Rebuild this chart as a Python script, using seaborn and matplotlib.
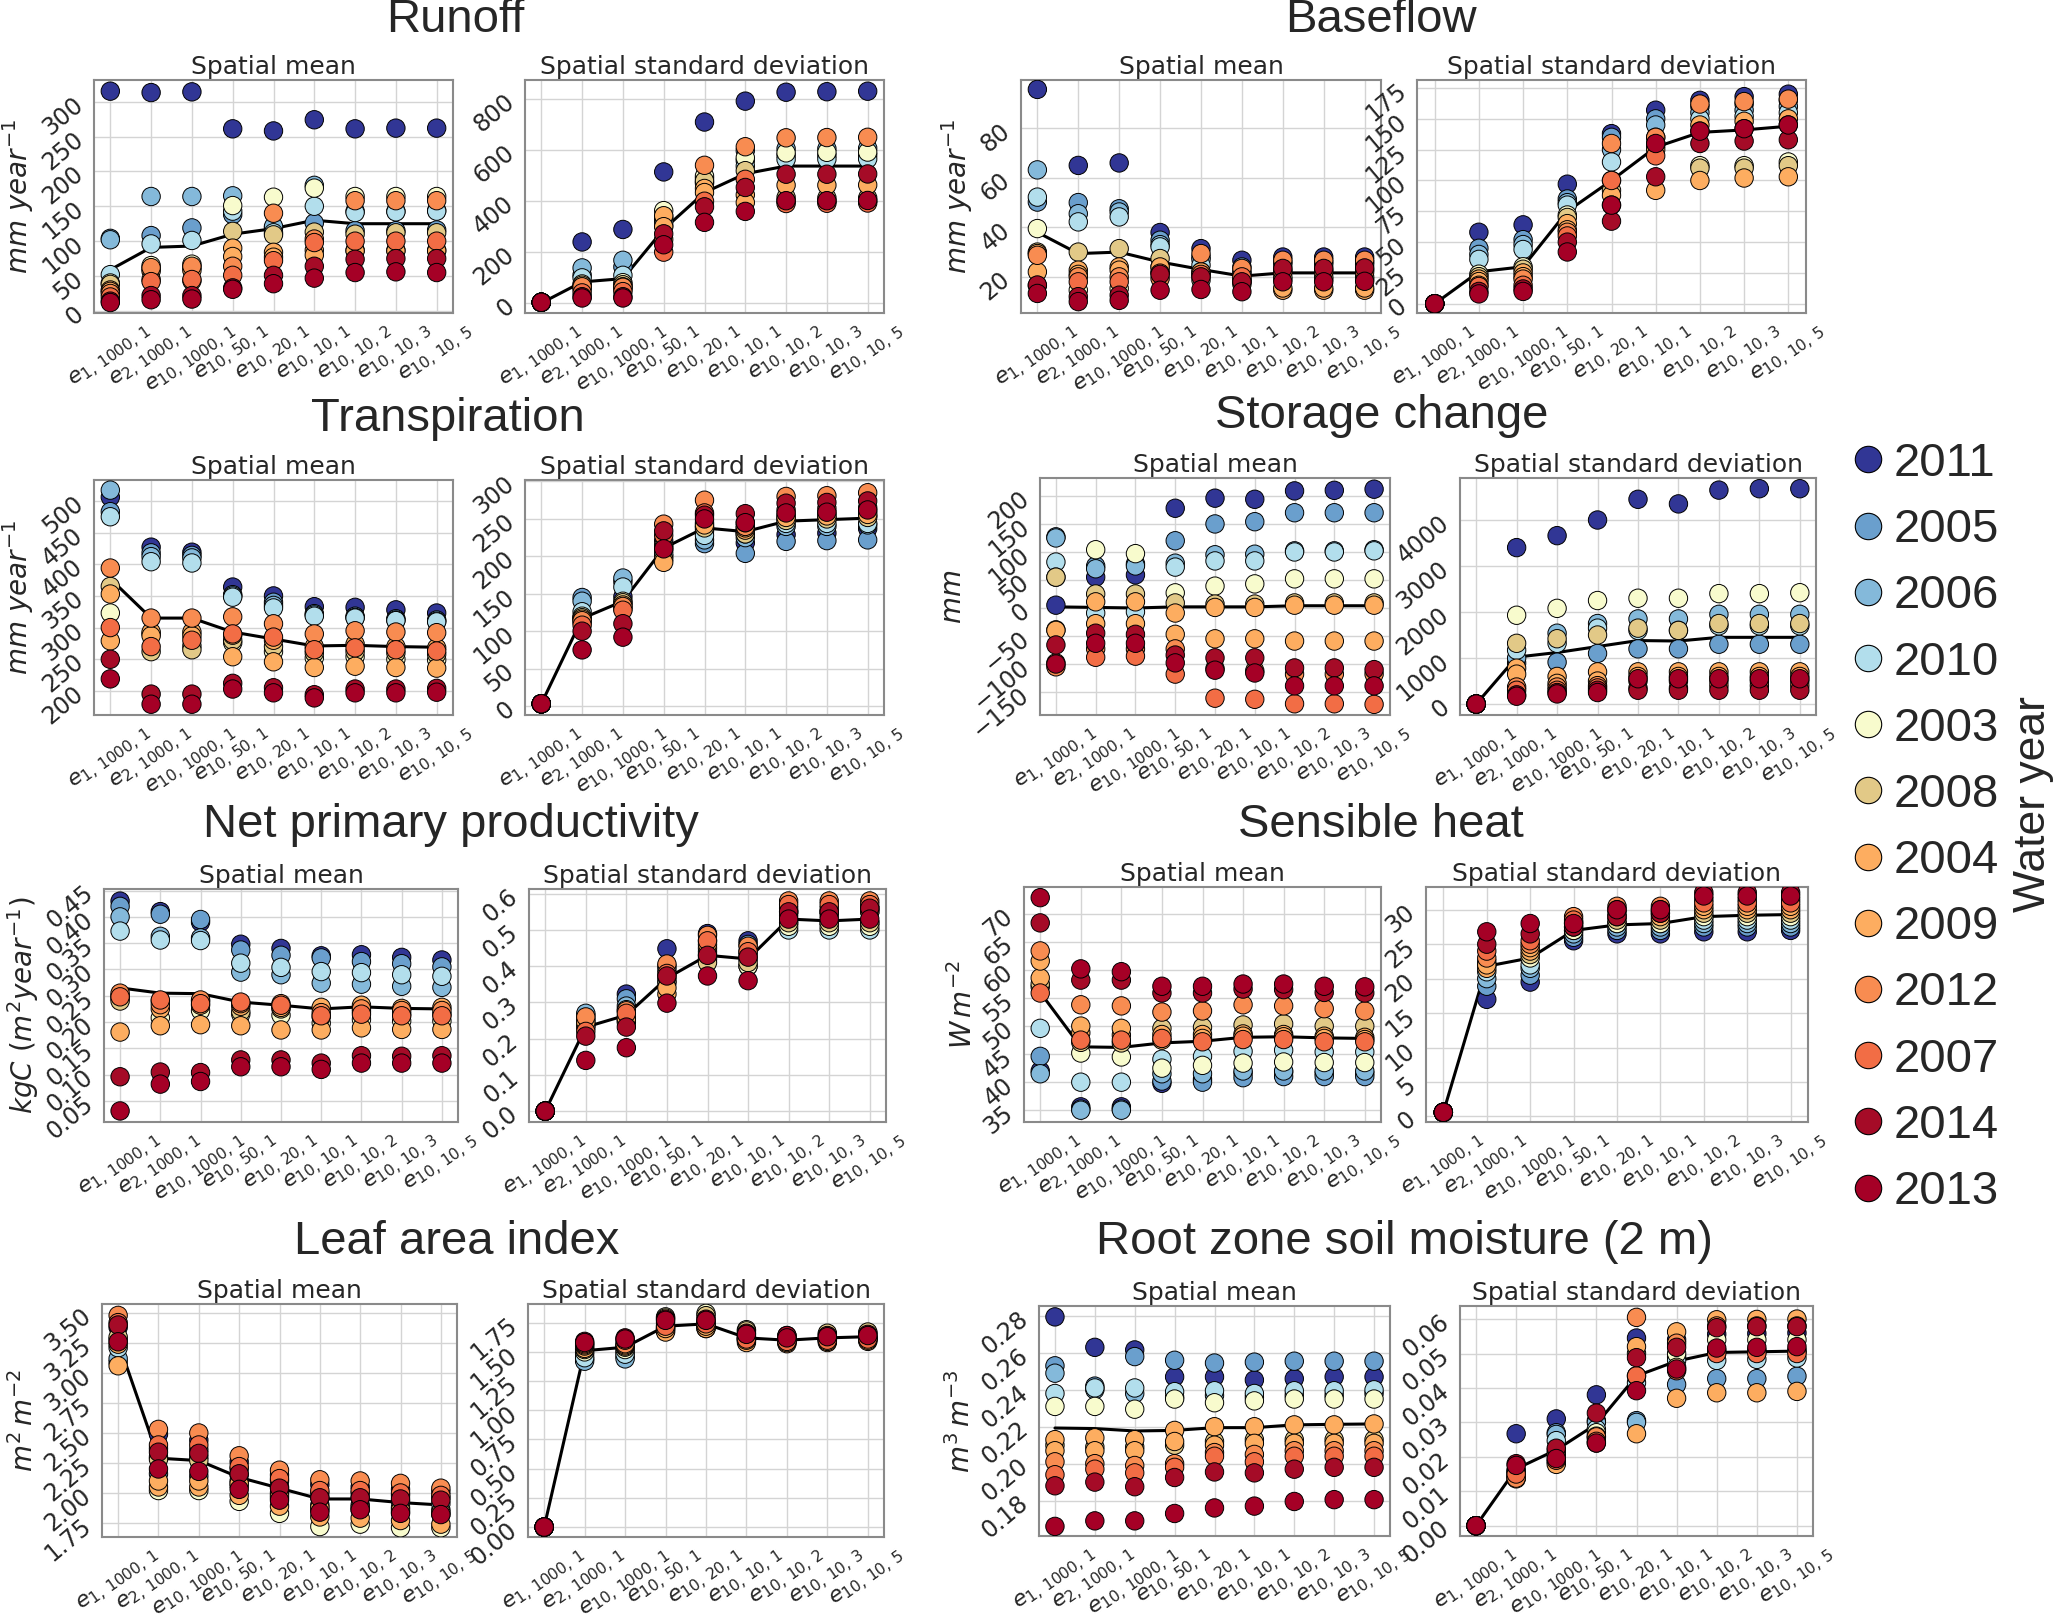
import numpy as np
import pandas as pd
import matplotlib
matplotlib.use('Agg')
import matplotlib.pyplot as plt
import seaborn as sns
from matplotlib.lines import Line2D
from matplotlib.ticker import MultipleLocator, FuncFormatter

W, H = 2067, 1619

# water years, in legend order, and their colours
years = ['2011', '2005', '2006', '2010', '2003', '2008',
         '2004', '2009', '2012', '2007', '2014', '2013']
year_colors = ['#313695', '#6a9fcd', '#84b9da', '#b2deec', '#f8fbcd', '#e2c987',
               '#fdad60', '#fdad60', '#f88c51', '#f26d45', '#a50b27', '#a50026']

categories = [r'$e_{1,\,1000,\,1}$', r'$e_{2,\,1000,\,1}$', r'$e_{10,\,1000,\,1}$', r'$e_{10,\,50,\,1}$',
              r'$e_{10,\,20,\,1}$', r'$e_{10,\,10,\,1}$', r'$e_{10,\,10,\,2}$', r'$e_{10,\,10,\,3}$',
              r'$e_{10,\,10,\,5}$']

# one row per category, values in the order of `years`
runoff_mean = [
    [315, 104, 102, 52, 40, 38, 30, 28, 25, 20, 14, 12],
    [313, 108, 164, 96, 65, 60, 57, 45, 62, 42, 22, 16],
    [314, 119, 164, 101, 67, 62, 58, 43, 64, 45, 22, 17],
    [261, 138, 165, 143, 151, 114, 90, 78, 64, 51, 33, 31],
    [258, 119, 121, 112, 163, 109, 84, 77, 140, 72, 51, 39],
    [274, 126, 180, 150, 176, 113, 87, 80, 103, 98, 64, 47],
    [261, 115, 143, 141, 164, 110, 87, 86, 158, 100, 74, 55],
    [262, 115, 143, 142, 164, 112, 87, 86, 158, 100, 75, 56],
    [262, 116, 144, 143, 164, 112, 87, 86, 158, 100, 75, 55],
]
runoff_mean_line = [59, 91, 93, 110, 118, 130, 125, 125, 125]

runoff_std = [
    [3, 3, 3, 3, 3, 3, 3, 3, 3, 3, 3, 3],
    [240, 110, 138, 99, 75, 70, 62, 55, 64, 40, 25, 20],
    [289, 142, 168, 109, 80, 72, 64, 55, 62, 45, 25, 20],
    [515, 304, 330, 320, 363, 340, 343, 300, 250, 200, 272, 229],
    [711, 490, 476, 470, 499, 480, 450, 434, 541, 400, 378, 317],
    [793, 560, 599, 538, 571, 520, 425, 395, 614, 486, 454, 360],
    [828, 580, 606, 564, 590, 415, 463, 400, 649, 391, 506, 402],
    [830, 580, 606, 565, 592, 413, 463, 400, 650, 392, 506, 402],
    [832, 582, 608, 566, 593, 413, 464, 401, 651, 393, 507, 403],
]
runoff_std_line = [0, 83, 96, 290, 434, 508, 538, 538, 538]

baseflow_mean = [
    [95.7, 50.2, 63.2, 52.2, 39.5, 30, 29.4, 22, 28.7, 16.5, 16.7, 13.3],
    [65, 50, 45.5, 42.2, 14.6, 30, 22.7, 21, 20, 18, 12, 10],
    [66, 47.5, 46.2, 44.2, 15.3, 31.4, 24, 22.7, 20, 18, 12.6, 10.5],
    [37.9, 34.8, 33, 32.1, 24, 27.4, 22, 24, 19.3, 21.5, 21, 14.6],
    [31.4, 28, 27, 24.7, 18.7, 22, 20.5, 22, 29.4, 21, 20, 14.9],
    [26.7, 24, 22, 21.4, 18, 19, 18.5, 17, 23.4, 20, 18, 14],
    [28, 26, 25, 23, 19, 20, 14.6, 15.5, 26.7, 22, 23.4, 18],
    [28, 26, 25, 23, 19, 20, 14.6, 15.5, 26.7, 22, 23.4, 18],
    [28, 26, 25, 23, 19, 20, 14.6, 15.5, 26.7, 22, 23.6, 18.2],
]
baseflow_mean_line = [38, 29.4, 30, 26, 23, 20.3, 21.6, 21.6, 21.6]

baseflow_std = [
    [0, 0, 0, 0, 0, 0, 0, 0, 0, 0, 0, 0],
    [58, 45, 40, 36, 24, 22, 20, 18, 15, 14, 10, 8],
    [64, 52, 48, 44, 30, 28, 25, 22, 20, 15, 12, 10],
    [97, 85, 82, 80, 72, 70, 65, 60, 58, 55, 50, 42],
    [138, 135, 125, 115, 100, 92, 88, 80, 130, 100, 67, 80],
    [157, 150, 145, 135, 130, 128, 125, 92, 135, 120, 103, 130],
    [165, 160, 155, 150, 112, 110, 145, 100, 162, 140, 130, 140],
    [168, 162, 157, 152, 112, 110, 148, 102, 164, 142, 132, 142],
    [170, 165, 160, 155, 115, 112, 150, 103, 166, 145, 133, 145],
]
baseflow_std_line = [0, 26, 30, 75, 100, 127, 139, 141, 144]

transp_mean = [
    [506, 483, 517, 475, 323, 365, 353, 279, 394, 300, 250, 219],
    [427, 418, 412, 404, 290, 262, 293, 287, 315, 270, 195, 179],
    [419, 414, 410, 402, 271, 265, 293, 287, 315, 280, 195, 179],
    [364, 352, 350, 348, 276, 280, 288, 254, 317, 290, 212, 203],
    [350, 340, 335, 331, 262, 270, 280, 246, 306, 285, 205, 197],
    [333, 322, 320, 318, 252, 260, 270, 237, 290, 265, 194, 189],
    [332, 318, 316, 315, 254, 262, 274, 239, 295, 268, 203, 197],
    [328, 314, 312, 311, 250, 260, 270, 237, 293, 265, 203, 197],
    [323, 312, 310, 309, 249, 258, 268, 236, 292, 263, 204, 198],
]
transp_mean_line = [377, 315, 315, 293, 282, 271, 272, 270, 269]

transp_std = [
    [3, 3, 3, 3, 3, 3, 3, 3, 3, 3, 3, 3],
    [118, 145, 140, 126, 120, 118, 116, 112, 114, 108, 100, 75],
    [146, 166, 171, 159, 140, 138, 135, 130, 133, 128, 110, 92],
    [221, 200, 208, 203, 215, 212, 196, 192, 243, 228, 234, 210],
    [234, 217, 222, 228, 240, 238, 245, 242, 275, 258, 255, 250],
    [218, 204, 225, 230, 232, 230, 235, 238, 240, 245, 257, 245],
    [229, 220, 240, 244, 250, 248, 255, 252, 280, 262, 271, 258],
    [231, 221, 240, 244, 252, 250, 258, 254, 281, 264, 272, 259],
    [237, 222, 242, 244, 254, 252, 260, 256, 285, 265, 274, 262],
]
transp_std_line = [3, 117, 140, 211, 238, 233, 247, 249, 251]

storage_mean = [
    [5, 127, 125, 82, 55, 55, -39, -40, -105, -98, -66, -100],
    [55, 75, 70, -9, 104, 25, -28, 11, -73, -88, -45, -63],
    [59, 79, 75, -7, 97, 25, -28, 11, -73, -86, -47, -63],
    [178, 120, 80, 73, 27, 9, -9, -47, -73, -118, -84, -98],
    [196, 150, 95, 84, 39, 7, 1, -55, -108, -161, -89, -111],
    [194, 154, 96, 84, 43, 7, 1, -55, -112, -163, -89, -116],
    [209, 170, 102, 100, 52, 9, 5, -59, -118, -171, -107, -139],
    [210, 170, 102, 100, 52, 9, 5, -59, -118, -171, -107, -139],
    [212, 170, 104, 102, 52, 9, 5, -59, -118, -172, -110, -139],
]
storage_mean_line = [2, 1, 0, 2, 2, 2, 4, 4, 4]

storage_std = [
    [0, 0, 0, 0, 0, 0, 0, 0, 0, 0, 0, 0],
    [3400, 890, 1000, 1170, 1930, 1320, 780, 650, 370, 300, 200, 170],
    [3660, 910, 1540, 1320, 2080, 1420, 600, 450, 370, 300, 250, 220],
    [4000, 1100, 1750, 1650, 2250, 1500, 700, 500, 400, 350, 300, 250],
    [4450, 1200, 1850, 1600, 2300, 1650, 700, 600, 500, 350, 300, 550],
    [4350, 1200, 1850, 1600, 2300, 1600, 700, 600, 500, 350, 300, 550],
    [4650, 1300, 1950, 1700, 2400, 1750, 700, 600, 500, 400, 300, 550],
    [4680, 1300, 1950, 1700, 2400, 1750, 700, 600, 500, 400, 300, 550],
    [4680, 1300, 1950, 1700, 2420, 1750, 700, 600, 500, 400, 300, 550],
]
storage_std_line = [0, 1020, 1120, 1250, 1380, 1370, 1450, 1450, 1450]

npp_mean = [
    [0.43, 0.42, 0.40, 0.373, 0.245, 0.24, 0.25, 0.181, 0.255, 0.248, 0.096, 0.031],
    [0.41, 0.405, 0.363, 0.356, 0.208, 0.24, 0.225, 0.193, 0.233, 0.242, 0.105, 0.082],
    [0.39, 0.395, 0.36, 0.355, 0.222, 0.24, 0.232, 0.195, 0.242, 0.235, 0.104, 0.087],
    [0.348, 0.337, 0.295, 0.312, 0.215, 0.22, 0.23, 0.193, 0.235, 0.238, 0.128, 0.115],
    [0.34, 0.327, 0.29, 0.304, 0.213, 0.225, 0.228, 0.185, 0.235, 0.232, 0.128, 0.115],
    [0.326, 0.322, 0.274, 0.296, 0.198, 0.21, 0.228, 0.185, 0.218, 0.212, 0.122, 0.11],
    [0.328, 0.315, 0.272, 0.294, 0.205, 0.22, 0.232, 0.189, 0.225, 0.215, 0.136, 0.122],
    [0.323, 0.311, 0.268, 0.29, 0.202, 0.215, 0.226, 0.186, 0.222, 0.212, 0.135, 0.122],
    [0.318, 0.305, 0.266, 0.287, 0.202, 0.215, 0.228, 0.186, 0.222, 0.212, 0.136, 0.122],
]
npp_mean_line = [0.265, 0.255, 0.254, 0.238, 0.232, 0.225, 0.229, 0.226, 0.225]

npp_std = [
    [0, 0, 0, 0, 0, 0, 0, 0, 0, 0, 0, 0],
    [0.24, 0.265, 0.27, 0.23, 0.235, 0.25, 0.255, 0.245, 0.26, 0.22, 0.207, 0.14],
    [0.323, 0.31, 0.29, 0.28, 0.26, 0.25, 0.245, 0.255, 0.277, 0.27, 0.232, 0.175],
    [0.448, 0.40, 0.39, 0.354, 0.36, 0.37, 0.323, 0.34, 0.406, 0.38, 0.373, 0.298],
    [0.49, 0.47, 0.44, 0.43, 0.42, 0.41, 0.45, 0.46, 0.485, 0.47, 0.43, 0.373],
    [0.47, 0.46, 0.42, 0.40, 0.40, 0.41, 0.43, 0.44, 0.455, 0.44, 0.425, 0.36],
    [0.55, 0.54, 0.52, 0.50, 0.51, 0.52, 0.55, 0.56, 0.58, 0.57, 0.55, 0.53],
    [0.55, 0.54, 0.52, 0.50, 0.51, 0.52, 0.55, 0.56, 0.58, 0.57, 0.55, 0.53],
    [0.56, 0.55, 0.52, 0.50, 0.51, 0.52, 0.55, 0.56, 0.58, 0.57, 0.56, 0.53],
]
npp_std_line = [0, 0.232, 0.265, 0.367, 0.43, 0.42, 0.53, 0.525, 0.53]

heat_mean = [
    [42, 44.6, 41.5, 49.6, 57, 57.5, 58.6, 61.6, 63.4, 55.9, 68.4, 72.9],
    [35.6, 35.2, 35, 40, 45.2, 47.1, 48.8, 50, 53.8, 47.5, 58.2, 60.2],
    [35.6, 35.2, 35, 40, 44.5, 47, 48.4, 49.6, 53.6, 47.5, 58.2, 59.7],
    [39.8, 40.2, 41.5, 44.1, 42.5, 49.6, 48.5, 47.5, 52.5, 47.8, 55.9, 57.1],
    [40.5, 40, 41.5, 44.6, 43, 49.8, 48.5, 47.8, 52.7, 47.2, 55.9, 57.1],
    [41.6, 40.8, 42, 45.5, 43.4, 50.2, 48.6, 48.2, 53.8, 47.6, 56.6, 57.5],
    [41.8, 41, 42, 45.7, 43.6, 50.4, 48.5, 48.1, 53.6, 47.6, 56.5, 57.5],
    [41.6, 41, 42, 45.4, 43.5, 50, 48.2, 47.8, 53.1, 47.2, 56, 57.1],
    [41.6, 41, 42, 45.4, 43.5, 50, 48, 47.6, 52.7, 47.2, 55.9, 57],
]
heat_mean_line = [56, 46.3, 46.2, 47.0, 47.3, 48.0, 48.1, 47.9, 47.8]

heat_std = [
    [0.6, 0.6, 0.6, 0.6, 0.6, 0.6, 0.6, 0.6, 0.6, 0.6, 0.6, 0.6],
    [17, 18.9, 20, 21, 22, 22.5, 21.5, 22, 23, 24, 25, 26.8],
    [19.5, 20.5, 21.5, 22, 23, 23.5, 24, 24.5, 25, 25.5, 26.5, 28],
    [25.5, 26, 26.5, 27, 27, 27.5, 28, 28.2, 29, 28.5, 27.5, 28],
    [26.5, 27, 27.5, 28, 28, 28.5, 29, 29.5, 30.5, 30, 29, 30],
    [26.5, 27, 27.5, 28, 28, 28.5, 29, 29.5, 30.5, 30, 29.5, 30],
    [26.8, 27.5, 28, 28.5, 29, 29.5, 30, 30.5, 31.5, 31, 32.5, 32],
    [26.8, 27.5, 28, 28.5, 29, 29.5, 30, 30.5, 31.5, 31, 32.5, 32],
    [27, 27.5, 28, 28.5, 29, 29.5, 30, 30.5, 31.5, 31, 32.5, 32],
]
heat_std_line = [0.6, 21.8, 23, 27, 27.8, 28, 29, 29.2, 29.3]

lai_mean = [
    [3.38, 3.09, 3.12, 3.21, 3.28, 3.30, 3.24, 3.06, 3.48, 3.42, 3.40, 3.26],
    [2.49, 2.16, 2.37, 2.30, 2.02, 2.28, 2.05, 2.10, 2.53, 2.40, 2.34, 2.20],
    [2.44, 2.14, 2.36, 2.30, 2.02, 2.27, 2.05, 2.10, 2.50, 2.40, 2.33, 2.18],
    [2.26, 2.10, 2.20, 2.15, 1.93, 2.06, 1.98, 2.08, 2.31, 2.22, 2.16, 2.03],
    [2.15, 2.00, 2.10, 2.05, 1.83, 1.96, 1.89, 1.98, 2.19, 2.12, 2.04, 1.94],
    [2.07, 1.90, 2.00, 1.96, 1.72, 1.86, 1.80, 1.88, 2.11, 2.02, 1.96, 1.84],
    [2.05, 1.90, 2.00, 1.96, 1.74, 1.86, 1.79, 1.88, 2.10, 2.02, 1.96, 1.86],
    [2.03, 1.88, 1.98, 1.93, 1.71, 1.84, 1.77, 1.86, 2.08, 2.00, 1.95, 1.83],
    [2.01, 1.86, 1.96, 1.91, 1.71, 1.82, 1.74, 1.84, 2.04, 1.98, 1.94, 1.82],
]
lai_mean_line = [3.26, 2.29, 2.27, 2.13, 2.04, 1.95, 1.95, 1.92, 1.90]

lai_std = [
    [0, 0, 0, 0, 0, 0, 0, 0, 0, 0, 0, 0],
    [1.48, 1.44, 1.42, 1.45, 1.50, 1.52, 1.53, 1.55, 1.56, 1.57, 1.59, 1.58],
    [1.50, 1.46, 1.44, 1.48, 1.52, 1.54, 1.55, 1.56, 1.57, 1.60, 1.62, 1.61],
    [1.72, 1.70, 1.68, 1.70, 1.80, 1.79, 1.67, 1.70, 1.75, 1.72, 1.78, 1.77],
    [1.74, 1.72, 1.70, 1.72, 1.83, 1.81, 1.70, 1.72, 1.76, 1.74, 1.78, 1.77],
    [1.63, 1.61, 1.60, 1.62, 1.69, 1.68, 1.58, 1.60, 1.62, 1.61, 1.66, 1.65],
    [1.61, 1.60, 1.59, 1.60, 1.63, 1.64, 1.57, 1.58, 1.60, 1.59, 1.64, 1.62],
    [1.62, 1.61, 1.60, 1.61, 1.65, 1.66, 1.58, 1.59, 1.61, 1.60, 1.64, 1.63],
    [1.63, 1.62, 1.61, 1.62, 1.66, 1.67, 1.59, 1.60, 1.62, 1.61, 1.65, 1.64],
]
lai_std_line = [0, 1.51, 1.54, 1.72, 1.74, 1.62, 1.60, 1.62, 1.63]

soil_mean = [
    [0.2795, 0.253, 0.249, 0.238, 0.231, 0.210, 0.213, 0.207, 0.201, 0.194, 0.188, 0.166],
    [0.263, 0.242, 0.240, 0.241, 0.231, 0.209, 0.214, 0.207, 0.200, 0.197, 0.190, 0.169],
    [0.2616, 0.258, 0.238, 0.241, 0.2295, 0.209, 0.213, 0.207, 0.199, 0.195, 0.1875, 0.169],
    [0.247, 0.256, 0.236, 0.239, 0.235, 0.210, 0.218, 0.212, 0.200, 0.198, 0.1925, 0.173],
    [0.247, 0.2545, 0.237, 0.2395, 0.233, 0.212, 0.220, 0.210, 0.206, 0.204, 0.1955, 0.176],
    [0.2453, 0.255, 0.236, 0.238, 0.234, 0.213, 0.220, 0.211, 0.205, 0.201, 0.195, 0.177],
    [0.246, 0.2555, 0.237, 0.2395, 0.235, 0.213, 0.221, 0.211, 0.207, 0.204, 0.197, 0.1795],
    [0.247, 0.2555, 0.237, 0.2395, 0.235, 0.213, 0.221, 0.211, 0.207, 0.204, 0.198, 0.1805],
    [0.247, 0.2555, 0.238, 0.240, 0.235, 0.213, 0.2215, 0.211, 0.207, 0.204, 0.198, 0.1805],
]
soil_mean_line = [0.2193, 0.219, 0.2177, 0.218, 0.2195, 0.2195, 0.221, 0.2213, 0.2215]

soil_std = [
    [0, 0, 0, 0, 0, 0, 0, 0, 0, 0, 0, 0],
    [0.0267, 0.016, 0.016, 0.0155, 0.015, 0.0145, 0.014, 0.0136, 0.0138, 0.015, 0.018, 0.0175],
    [0.031, 0.027, 0.0265, 0.0247, 0.022, 0.021, 0.0185, 0.0178, 0.0205, 0.019, 0.0225, 0.0195],
    [0.038, 0.0305, 0.030, 0.028, 0.027, 0.026, 0.0255, 0.024, 0.0258, 0.0245, 0.0327, 0.024],
    [0.0545, 0.0305, 0.030, 0.0415, 0.050, 0.0435, 0.052, 0.0267, 0.0605, 0.0435, 0.0488, 0.0392],
    [0.054, 0.041, 0.049, 0.048, 0.050, 0.046, 0.0563, 0.037, 0.053, 0.045, 0.0518, 0.0455],
    [0.0556, 0.0427, 0.051, 0.048, 0.054, 0.0505, 0.0598, 0.0386, 0.058, 0.050, 0.0575, 0.0516],
    [0.0558, 0.0427, 0.051, 0.0483, 0.054, 0.0505, 0.0599, 0.0386, 0.058, 0.050, 0.0578, 0.0518],
    [0.056, 0.0434, 0.051, 0.0487, 0.054, 0.0505, 0.060, 0.039, 0.058, 0.050, 0.0578, 0.052],
]
soil_std_line = [0, 0.0165, 0.022, 0.0295, 0.0435, 0.0478, 0.0503, 0.0505, 0.0507]

sns.set_style('whitegrid', {'axes.edgecolor': '#8a8a8a', 'grid.color': '#d4d4d4'})
plt.rcParams['font.family'] = ['DejaVu Sans']
plt.rcParams['axes.linewidth'] = 1.5
plt.rcParams['grid.linewidth'] = 1.0

fig = plt.figure(figsize=(W / 100, H / 100), dpi=100)


def px_axes(x0, x1, y0, y1):
    # axes placed by pixel box (left, right, top, bottom)
    return fig.add_axes([x0 / W, 1 - y1 / H, (x1 - x0) / W, (y1 - y0) / H])


def tick_fmt(fmt):
    return FuncFormatter(lambda v, p: (fmt % v).replace('-', '\u2212'))


def draw(ax, values, line, ylim, step, fmt, subtitle, ylabel=None):
    rows = []
    for i, col in enumerate(values):
        for year, v in zip(years, col):
            rows.append((i, year, v))
    df = pd.DataFrame(rows, columns=['pos', 'year', 'value'])

    sns.lineplot(x=np.arange(len(line)), y=line, color='black', lw=2.2, ax=ax, zorder=2)
    sns.scatterplot(data=df, x='pos', y='value', hue='year', hue_order=years,
                    palette=year_colors, s=175, edgecolor='black', linewidth=0.7,
                    legend=False, ax=ax, zorder=3)

    ax.set_xlim(-0.4, 8.4)
    ax.set_ylim(*ylim)
    ax.set_xticks(range(len(categories)))
    ax.set_xticklabels(categories, rotation=35, ha='center', fontsize=16)
    ax.yaxis.set_major_locator(MultipleLocator(step))
    ax.yaxis.set_major_formatter(tick_fmt(fmt))
    ax.tick_params(axis='y', labelrotation=40, labelsize=17, pad=1)
    ax.tick_params(axis='x', pad=2)
    ax.set_xlabel('')
    ax.set_ylabel(ylabel if ylabel else '', fontsize=20, labelpad=1)
    ax.set_title(subtitle, fontsize=18, pad=4)


mm_yr = r'$mm\ year^{-1}$'

# Runoff
draw(px_axes(94, 453, 80, 313), runoff_mean, runoff_mean_line, (-3, 331), 50, '%d', 'Spatial mean', mm_yr)
draw(px_axes(525, 884, 80, 313), runoff_std, runoff_std_line, (-39, 876), 200, '%d', 'Spatial standard deviation')
# Baseflow
draw(px_axes(1021, 1381, 80, 313), baseflow_mean, baseflow_mean_line, (5.4, 99.5), 20, '%d', 'Spatial mean', mm_yr)
draw(px_axes(1417, 1806, 80, 313), baseflow_std, baseflow_std_line, (-7.5, 181.5), 25, '%d', 'Spatial standard deviation')
# Transpiration
draw(px_axes(94, 453, 480, 715), transp_mean, transp_mean_line, (162, 533), 50, '%d', 'Spatial mean', mm_yr)
draw(px_axes(525, 884, 480, 715), transp_std, transp_std_line, (-12, 302), 50, '%d', 'Spatial standard deviation')
# Storage change
draw(px_axes(1040, 1390, 478, 715), storage_mean, storage_mean_line, (-191, 232), 50, '%d', 'Spatial mean', r'$mm$')
draw(px_axes(1460, 1816, 478, 715), storage_std, storage_std_line, (-238, 4913), 1000, '%d', 'Spatial standard deviation')
# Net primary productivity
draw(px_axes(104, 458, 889, 1122), npp_mean, npp_mean_line, (0.010, 0.453), 0.05, '%.2f', 'Spatial mean',
     r'$kgC\ (m^2 year^{-1})$')
draw(px_axes(529, 886, 889, 1122), npp_std, npp_std_line, (-0.03, 0.613), 0.1, '%.1f', 'Spatial standard deviation')
# Sensible heat
draw(px_axes(1024, 1381, 887, 1122), heat_mean, heat_mean_line, (32.9, 74.8), 5, '%d', 'Spatial mean', r'$W\,m^{-2}$')
draw(px_axes(1426, 1808, 887, 1122), heat_std, heat_std_line, (-0.8, 33.3), 5, '%d', 'Spatial standard deviation')
# Leaf area index
draw(px_axes(102, 457, 1304, 1537), lai_mean, lai_mean_line, (1.633, 3.575), 0.25, '%.2f', 'Spatial mean', r'$m^2\,m^{-2}$')
draw(px_axes(528, 884, 1304, 1537), lai_std, lai_std_line, (-0.085, 1.91), 0.25, '%.2f', 'Spatial standard deviation')
# Root zone soil moisture
draw(px_axes(1039, 1390, 1306, 1536), soil_mean, soil_mean_line, (0.1608, 0.2854), 0.02, '%.2f', 'Spatial mean', r'$m^3\,m^{-3}$')
draw(px_axes(1460, 1813, 1306, 1536), soil_std, soil_std_line, (-0.003, 0.0638), 0.01, '%.2f', 'Spatial standard deviation')

titles = [('Runoff', 455, 20), ('Baseflow', 1381, 20),
          ('Transpiration', 448, 419), ('Storage change', 1382, 416),
          ('Net primary productivity', 451, 825), ('Sensible heat', 1381, 825),
          ('Leaf area index', 457, 1242), ('Root zone soil moisture (2 m)', 1404, 1242)]
for text, x, y in titles:
    fig.text(x / W, 1 - y / H, text, ha='center', va='center', fontsize=34, family='Liberation Sans')

handles = [Line2D([], [], marker='o', ls='', markersize=19, markerfacecolor=c,
                  markeredgecolor='black', markeredgewidth=0.8) for c in year_colors]
fig.legend(handles, years, loc='center left', bbox_to_anchor=(1849 / W, 1 - 828 / H),
           frameon=False, prop={'family': 'Liberation Sans', 'size': 34},
           handlelength=0.8, handletextpad=0.15, labelspacing=0.47, borderpad=0, borderaxespad=0)
fig.text(2034 / W, 1 - 804 / H, 'Water year', rotation=90, ha='center', va='center',
         fontsize=32, family='Liberation Sans')

fig.savefig('out.png', dpi=100)
